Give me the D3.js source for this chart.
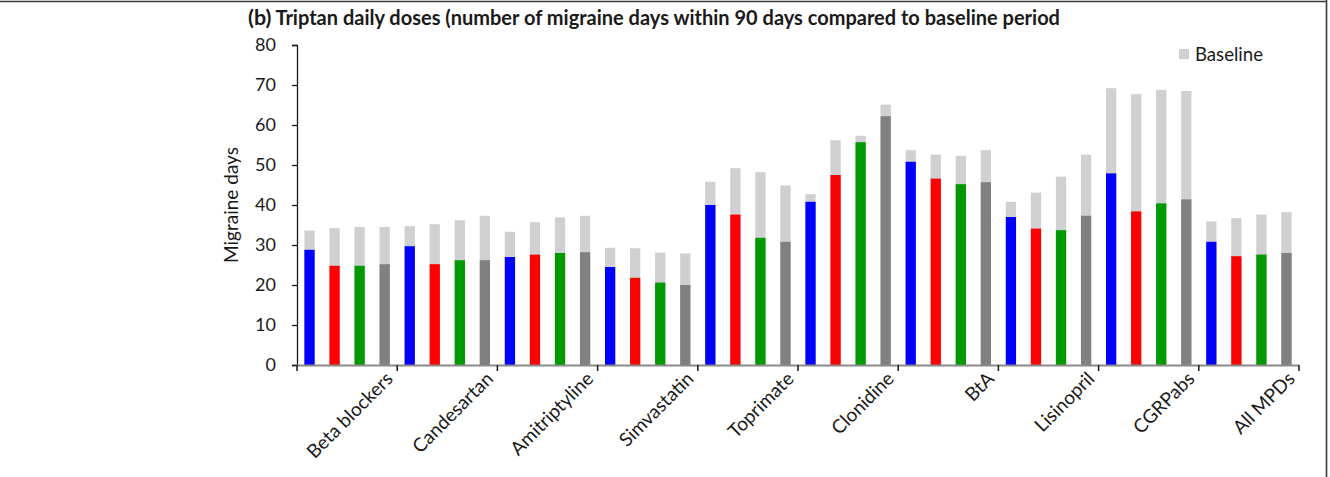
<!DOCTYPE html>
<html>
<head>
<meta charset="utf-8">
<script src="https://cdn.jsdelivr.net/npm/d3@7"></script>
<style>
  html, body { margin: 0; padding: 0; background: #fff; }
  svg { display: block; }
  text { font-family: Lato, "Open Sans", sans-serif; fill: #1a1a1a; }
</style>
</head>
<body>
<svg id="chart" width="1330" height="477"></svg>
<script>
// Preventive drug groups along the x axis
const categories = ["Beta blockers", "Candesartan", "Amitriptyline", "Simvastatin", "Toprimate",
                    "Clonidine", "BtA", "Lisinopril", "CGRPabs", "All MPDs"];

// Migraine days in each of the four follow-up periods (one value per drug group)
const period1 = [28.8, 29.7, 27.0, 24.5, 40.0, 40.8, 50.8, 37.0, 47.9, 30.8];
const period2 = [24.8, 25.2, 27.6, 21.8, 37.6, 47.5, 46.6, 34.1, 38.4, 27.2];
const period3 = [24.8, 26.2, 28.0, 20.6, 31.8, 55.7, 45.2, 33.7, 40.4, 27.6];
const period4 = [25.2, 26.2, 28.2, 20.0, 30.8, 62.2, 45.7, 37.3, 41.4, 28.0];

// Matching baseline-period migraine days behind each bar
const baseline1 = [33.6, 34.7, 33.3, 29.3, 45.8, 42.7, 53.7, 40.8, 69.2, 35.9];
const baseline2 = [34.2, 35.2, 35.7, 29.2, 49.2, 56.2, 52.6, 43.1, 67.7, 36.7];
const baseline3 = [34.5, 36.2, 36.9, 28.1, 48.2, 57.3, 52.3, 47.1, 68.8, 37.6];
const baseline4 = [34.5, 37.3, 37.3, 27.9, 44.9, 65.1, 53.7, 52.6, 68.5, 38.2];

const yTicks = [0, 10, 20, 30, 40, 50, 60, 70, 80];
const titleTag = "(b)";
const titleText = "Triptan daily doses (number of migraine days within 90 days compared to baseline period";
const yTitle = "Migraine days";
const legendLabel = "Baseline";

const seriesValues = [period1, period2, period3, period4];
const seriesBaseline = [baseline1, baseline2, baseline3, baseline4];
const seriesColors = ["#0000ff", "#ff0000", "#009900", "#808080"];
const baselineColor = "#d0cfd1";

const svg = d3.select("#chart");
const W = 1330, H = 477;
const plot = { left: 297, right: 1299, top: 45, bottom: 365 };

const x0 = d3.scaleBand().domain(categories).range([plot.left, plot.right]).padding(0);
const x1 = d3.scaleBand().domain(d3.range(4)).range([0, x0.bandwidth()]).padding(0);
const barW = x1.bandwidth() * 0.41;
const y = d3.scaleLinear().domain([0, 80]).range([plot.bottom, plot.top]);

// Frame lines along the top and the right edge
svg.append("line").attr("x1", 0).attr("x2", 1327).attr("y1", 1.5).attr("y2", 1.5)
  .attr("stroke", "#3a3a3a").attr("stroke-width", 1.6);
svg.append("line").attr("x1", 1326.5).attr("x2", 1326.5).attr("y1", 0).attr("y2", H)
  .attr("stroke", "#3a3a3a").attr("stroke-width", 1.6);

// Title
const title = svg.append("text").attr("x", 248).attr("y", 25).attr("font-weight", 700);
title.append("tspan").attr("font-size", 21.5).text(titleTag);
title.append("tspan").attr("font-size", 20).attr("dx", 4).text(titleText);

// Bars: baseline behind, follow-up period in front
const rows = [];
categories.forEach((c, gi) => {
  for (let s = 0; s < 4; s++) {
    rows.push({ cat: c, s, v: seriesValues[s][gi], b: seriesBaseline[s][gi] });
  }
});
const cx = d => x0(d.cat) + x1(d.s) + x1.bandwidth() / 2;

svg.append("g").selectAll("rect").data(rows).join("rect")
  .attr("x", d => cx(d) - barW / 2).attr("width", barW)
  .attr("y", d => y(d.b)).attr("height", d => y(0) - y(d.b))
  .attr("fill", baselineColor);

svg.append("g").selectAll("rect").data(rows).join("rect")
  .attr("x", d => cx(d) - barW / 2).attr("width", barW)
  .attr("y", d => y(d.v)).attr("height", d => y(0) - y(d.v))
  .attr("fill", d => seriesColors[d.s]);

// Y axis
const yAxis = svg.append("g").attr("transform", `translate(${plot.left},0)`)
  .call(d3.axisLeft(y).tickValues(yTicks).tickSize(5).tickPadding(16));
yAxis.select(".domain").attr("stroke", "#1a1a1a").attr("stroke-width", 1.3);
yAxis.selectAll(".tick line").attr("stroke", "#1a1a1a").attr("stroke-width", 1.3);
yAxis.selectAll(".tick text").attr("font-size", 18).attr("font-family", "Lato, sans-serif").attr("fill", "#1a1a1a");

// X axis with group boundary ticks
const boundaries = categories.map(c => x0(c)).concat([plot.right]);
const xAxis = svg.append("g");
xAxis.append("line").attr("x1", plot.left).attr("x2", plot.right)
  .attr("y1", plot.bottom + 0.5).attr("y2", plot.bottom + 0.5)
  .attr("stroke", "#8a8a8a").attr("stroke-width", 2);
xAxis.selectAll("line.tick").data(boundaries).join("line").attr("class", "tick")
  .attr("x1", d => d).attr("x2", d => d)
  .attr("y1", plot.bottom).attr("y2", plot.bottom + 6)
  .attr("stroke", "#1a1a1a").attr("stroke-width", 1.5);

// Rotated category labels, ending at each group's right edge
xAxis.selectAll("text").data(categories).join("text")
  .attr("font-size", 19)
  .attr("text-anchor", "end")
  .attr("transform", d => `translate(${x0(d) + x0.bandwidth() - 3},${plot.bottom + 15}) rotate(-45)`)
  .text(d => d);

// Y axis title
svg.append("text")
  .attr("transform", `translate(238,${(plot.top + plot.bottom) / 2}) rotate(-90)`)
  .attr("text-anchor", "middle").attr("font-size", 19)
  .text(yTitle);

// Legend
svg.append("rect").attr("x", 1179).attr("y", 49).attr("width", 10).attr("height", 10).attr("fill", baselineColor);
svg.append("text").attr("x", 1195).attr("y", 60.5).attr("font-size", 18.6).text(legendLabel);
</script>
</body>
</html>
